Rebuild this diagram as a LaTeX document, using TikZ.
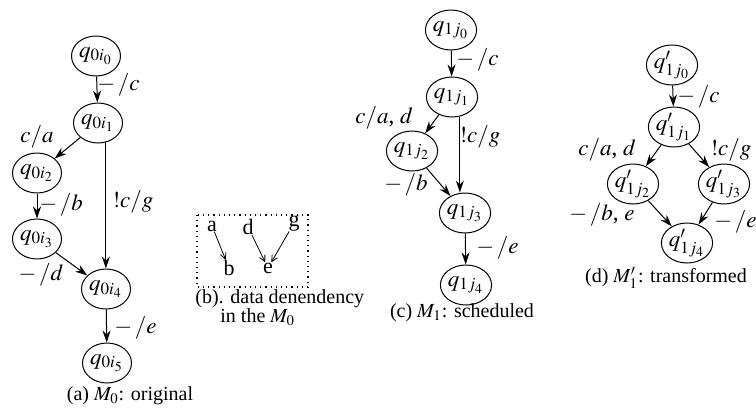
\documentclass[tikz,border=0pt]{standalone}
\usepackage{mathptmx}
\usepackage{fontspec}
\setmainfont{Liberation Serif}
\usetikzlibrary{shapes.geometric,arrows.meta,calc}
\begin{document}
\begin{tikzpicture}[x=0.5pt,y=-0.5pt,
  st/.style={draw,ellipse,line width=0.5pt,minimum width=24.5pt,minimum height=20pt,inner sep=0pt,font=\fontsize{11.5}{13}\selectfont},
  arr/.style={line width=0.5pt,-{Stealth[length=6pt,width=4pt]}},
  sarr/.style={line width=0.4pt,-{Straight Barb[length=3pt,width=3pt]}},
  lbl/.style={inner sep=0pt,font=\fontsize{11.5}{13}\selectfont},
  blet/.style={inner sep=0pt,font=\fontsize{11}{13}\selectfont},
  captxt/.style={inner sep=0pt,font=\fontsize{10}{12}\selectfont}]
\useasboundingbox (0,0) rectangle (756,419);
% (a)
\node[st] (a0) at (96,56) {$q_{0i_0}$};
\node[st] (a1) at (98,123) {$q_{0i_1}$};
\node[st] (a2) at (37,173) {$q_{0i_2}$};
\node[st] (a3) at (37,239) {$q_{0i_3}$};
\node[st] (a4) at (106,289) {$q_{0i_4}$};
\node[st] (a5) at (107,363) {$q_{0i_5}$};
\draw[arr] (a0) -- (a1);
\draw[arr] (a1) -- (a2);
\draw[arr] (a1.-68) -- (a1.-68 |- a4.north);
\draw[arr] (a2) -- (a3);
\draw[arr] (a3) -- (a4);
\draw[arr] (a4) -- (a5);
\node[lbl,anchor=west] (la0) at (97,85) {$-\,/c$};
\node[lbl] (la1) at (37,137) {$c/a$};
\node[lbl] (la2) at (133,202) {$!c/g$};
\node[lbl,anchor=west] (la3) at (39,205) {$-\,/b$};
\node[lbl] (la4) at (41,275) {$-\,/d$};
\node[lbl,anchor=west] (la5) at (114,328) {$-\,/e$};
\node[captxt] (capa) at (130,396) {(a) $M_0$: original};
% (b)
\draw[dotted,line width=0.6pt] (197,215) rectangle (308,287);
\node[blet] (ba) at (212,226) {a};
\node[blet] (bb) at (229,268) {b};
\node[blet] (bd) at (248,227) {d};
\node[blet] (be) at (268,268) {e};
\node[blet] (bg) at (294,223) {g};
\draw[sarr] (ba) -- (bb);
\draw[sarr] (bd) -- (be);
\draw[sarr] (bg) -- (be);
\node[captxt,anchor=base west] (capb1) at (195,303) {(b). data denendency};
\node[captxt,anchor=base west] (capb2) at (220,322) {in the $M_0$};
% (c)
\node[st] (c0) at (451,30) {$q_{1j_0}$};
\node[st] (c1) at (452,97) {$q_{1j_1}$};
\node[st] (c2) at (412,151) {$q_{1j_2}$};
\node[st] (c3) at (465,213) {$q_{1j_3}$};
\node[st] (c4) at (466,285) {$q_{1j_4}$};
\draw[arr] (c0) -- (c1);
\draw[arr] (c1) -- (c2);
\draw[arr] (c1.-68) -- (c1.-68 |- c3.north);
\draw[arr] (c2) -- (c3);
\draw[arr] (c3) -- (c4);
\node[lbl,anchor=west] (lc0) at (456,60) {$-\,/c$};
\node[lbl] (lc1) at (384,118) {$c/a$, $d$};
\node[lbl] (lc2) at (480,137) {$!c/g$};
\node[lbl] (lc3) at (406,185) {$-\,/b$};
\node[lbl,anchor=west] (lc4) at (476,248) {$-\,/e$};
\node[captxt] (capc) at (462,313) {(c) $M_1$: scheduled};
% (d)
\node[st] (d0) at (672,65) {$q'_{1j_0}$};
\node[st] (d1) at (674,127) {$q'_{1j_1}$};
\node[st] (d2) at (633,184) {$q'_{1j_2}$};
\node[st] (d3) at (724,184) {$q'_{1j_3}$};
\node[st] (d4) at (687,243) {$q'_{1j_4}$};
\draw[arr] (d0) -- (d1);
\draw[arr] (d1) -- (d2);
\draw[arr] (d1) -- (d3);
\draw[arr] (d2) -- (d4);
\draw[arr] (d3) -- (d4);
\node[lbl,anchor=west] (ld0) at (677,97) {$-\,/c$};
\node[lbl] (ld1) at (607,150) {$c/a$, $d$};
\node[lbl] (ld2) at (731,150) {$!c/g$};
\node[lbl] (ld3) at (602,215) {$-\,/b$, $e$};
\node[lbl,anchor=west] (ld4) at (714,222) {$-\,/e$};
\node[captxt] (capd) at (666,278) {(d) $M'_1$: transformed};
\end{tikzpicture}
\end{document}
